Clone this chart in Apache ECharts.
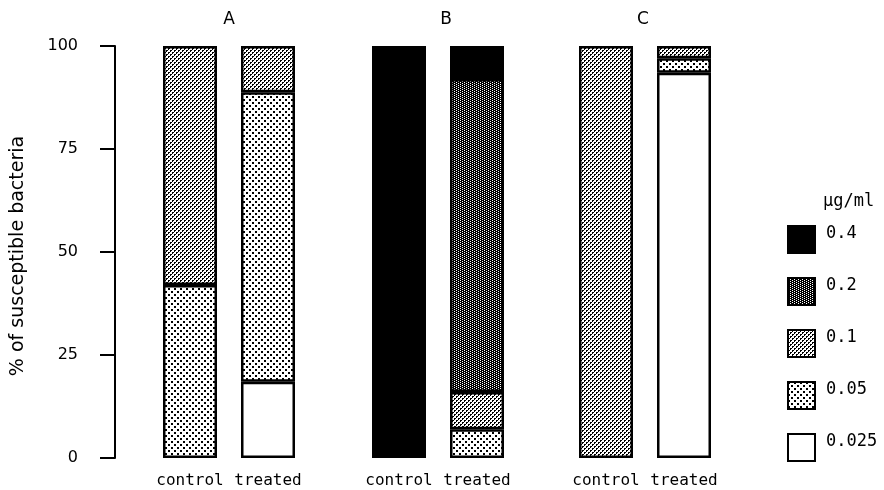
<!DOCTYPE html>
<html>
<head>
<meta charset="utf-8">
<script src="https://cdn.jsdelivr.net/npm/echarts@6/dist/echarts.min.js"></script>
<style>
  html, body { margin: 0; padding: 0; background: #fff; }
  #chart { width: 884px; height: 490px; }
</style>
</head>
<body>
<div id="chart"></div>
<script>
// Panels and the two bars in each
const panelTitles = ['A', 'B', 'C'];
const conditions = ['control', 'treated'];

// Legend order (top to bottom) and stacking order (bottom to top)
const legendOrder = ['0.4', '0.2', '0.1', '0.05', '0.025'];
const stackOrder = ['0.025', '0.05', '0.1', '0.2', '0.4'];

// % of bacteria per MIC class; values run A-control, A-treated, B-control, B-treated, C-control, C-treated
const mic0025 = [null, 18.5, null, null, null, 93.5];
const mic005  = [42,   70.3, null, 7,    null, 3.5];
const mic01   = [58,   11.2, null, 9,    100,  3];
const mic02   = [null, null, null, 76,   null, null];
const mic04   = [null, null, 100,  8,    null, null];

const valuesByClass = {
  '0.025': mic0025,
  '0.05': mic005,
  '0.1': mic01,
  '0.2': mic02,
  '0.4': mic04
};

// Dot-screen fills drawn on small tiles; each dot is a list of pixel offsets
function tile(w, h, bg, fg, origins, dotPixels) {
  const c = document.createElement('canvas');
  c.width = w; c.height = h;
  const ctx = c.getContext('2d');
  ctx.fillStyle = bg;
  ctx.fillRect(0, 0, w, h);
  ctx.fillStyle = fg;
  origins.forEach(o => dotPixels.forEach(d => {
    ctx.fillRect((o[0] + d[0]) % w, (o[1] + d[1]) % h, 1, 1);
  }));
  return { image: c, repeat: 'repeat' };
}

const onePixel = [[0, 0]];
const roundDot = [[0, 0], [1, 0], [0, 1]];
const squareDot = [[0, 0], [1, 0], [0, 1], [1, 1]];

const fills = {
  '0.4': '#000',
  '0.2': tile(4, 4, '#000', '#fff', [[0, 0], [2, 1], [0, 2], [2, 3]], onePixel),
  '0.1': tile(4, 4, '#fff', '#000', [[0, 0], [2, 2]], roundDot),
  '0.05': tile(6, 6, '#fff', '#000', [[0, 0], [3, 3]], squareDot),
  '0.025': '#fff'
};

const gridLefts = [151, 360, 567];
const titleCenters = [229, 446, 643];

const grids = gridLefts.map(l => ({ left: l, width: 156, top: 46, bottom: 32 }));

const xAxes = gridLefts.map((_, i) => ({
  type: 'category',
  gridIndex: i,
  data: conditions,
  axisLine: { show: false },
  axisTick: { show: false },
  axisLabel: {
    interval: 0,
    hideOverlap: false,
    margin: 15,
    color: '#000',
    fontFamily: 'DejaVu Sans Mono',
    fontSize: 16
  }
}));

const yAxes = gridLefts.map((_, i) => ({
  type: 'value',
  gridIndex: i,
  min: 0,
  max: 100,
  interval: 25,
  show: i === 0,
  offset: 36,
  name: i === 0 ? '% of susceptible bacteria' : '',
  nameLocation: 'middle',
  nameGap: 87,
  nameTextStyle: { color: '#000', fontFamily: 'DejaVu Sans', fontSize: 19, padding: [0, 8, 0, 0] },
  axisLine: { show: true, lineStyle: { color: '#000', width: 2 } },
  axisTick: { show: true, length: 15, lineStyle: { color: '#000', width: 2 } },
  axisLabel: { margin: 37, color: '#000', fontFamily: 'DejaVu Sans', fontSize: 16 },
  splitLine: { show: false }
}));

const series = [];
gridLefts.forEach((_, g) => {
  stackOrder.forEach(cls => {
    series.push({
      type: 'bar',
      name: cls,
      xAxisIndex: g,
      yAxisIndex: g,
      stack: 'panel' + g,
      barWidth: 54,
      data: valuesByClass[cls].slice(g * 2, g * 2 + 2),
      itemStyle: { color: fills[cls], borderColor: '#000', borderWidth: 2.5 },
      emphasis: { disabled: true }
    });
  });
});

const titles = panelTitles.map((t, i) => ({
  text: t,
  left: titleCenters[i],
  top: 11,
  padding: 0,
  textAlign: 'center',
  textStyle: { color: '#000', fontFamily: 'DejaVu Sans', fontSize: 17, fontWeight: 'normal' }
}));
titles.push({
  text: 'µg/ml',
  left: 823,
  top: 193,
  padding: 0,
  textStyle: { color: '#000', fontFamily: 'DejaVu Sans Mono', fontSize: 17, fontWeight: 'normal' }
});

const chart = echarts.init(document.getElementById('chart'), null, { renderer: 'canvas' });
chart.setOption({
  backgroundColor: '#fff',
  animation: false,
  title: titles,
  grid: grids,
  xAxis: xAxes,
  yAxis: yAxes,
  legend: {
    data: legendOrder,
    orient: 'vertical',
    left: 787,
    top: 225,
    padding: 0,
    icon: 'rect',
    itemWidth: 27,
    itemHeight: 27,
    itemGap: 23,
    selectedMode: false,
    itemStyle: { borderColor: '#000', borderWidth: 2 },
    formatter: '{v|{name}}',
    textStyle: {
      color: '#000',
      rich: {
        v: {
          color: '#000',
          fontFamily: 'DejaVu Sans Mono',
          fontSize: 17,
          padding: [0, 0, 12, 6]
        }
      }
    }
  },
  series: series
});
</script>
</body>
</html>
